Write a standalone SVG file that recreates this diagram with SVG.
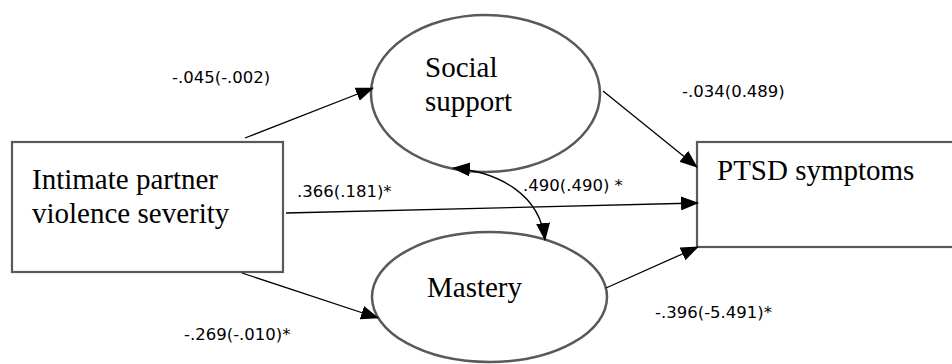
<svg xmlns="http://www.w3.org/2000/svg" width="952" height="364" viewBox="0 0 952 364">
<style>
.box{fill:#fff;stroke:#595959;stroke-width:2.2}
.ell{fill:#fff;stroke:#595959;stroke-width:2.5}
.nt{font-family:"Liberation Serif","Times New Roman",serif;font-size:29px;fill:#000}
.lb{font-family:"DejaVu Sans",sans-serif;font-size:16.5px;fill:#000}
.cn{fill:none;stroke:#000;stroke-width:1.3}
</style>
<defs>
<marker id="ah" markerUnits="userSpaceOnUse" markerWidth="18" markerHeight="14" viewBox="0 0 18 14" refX="17" refY="7" orient="auto-start-reverse">
<path d="M0,0 L18,7 L0,14 Z" fill="#000"/>
</marker>
</defs>
<rect width="952" height="364" fill="#fff"/>
<g id="ipv">
<rect class="box" x="12" y="142" width="271" height="130"/>
<text class="nt" x="32" y="189">Intimate partner</text>
<text class="nt" x="32" y="223">violence severity</text>
</g>
<g id="ptsd">
<rect class="box" x="697" y="142" width="262" height="105"/>
<text class="nt" x="717" y="180">PTSD symptoms</text>
</g>
<g id="social">
<ellipse class="ell" cx="485.5" cy="93.5" rx="114.5" ry="78.5"/>
<text class="nt" x="425" y="77">Social</text>
<text class="nt" x="425" y="111">support</text>
</g>
<g id="mastery">
<ellipse class="ell" cx="489.5" cy="297" rx="117.5" ry="65"/>
<text class="nt" x="427" y="297">Mastery</text>
</g>
<g id="connectors">
<line class="cn" x1="245" y1="138" x2="373" y2="88" marker-end="url(#ah)"/>
<line class="cn" x1="603" y1="91" x2="697" y2="167" marker-end="url(#ah)"/>
<line class="cn" x1="286" y1="213" x2="698" y2="203" marker-end="url(#ah)"/>
<line class="cn" x1="242" y1="273" x2="378" y2="318" marker-end="url(#ah)"/>
<line class="cn" x1="606" y1="288" x2="698" y2="247" marker-end="url(#ah)"/>
<path class="cn" d="M453,168 C500,172 540,195 545,240" marker-start="url(#ah)" marker-end="url(#ah)"/>
</g>
<g id="labels">
<text class="lb" x="172" y="83">-.045(-.002)</text>
<text class="lb" x="682" y="97">-.034(0.489)</text>
<text class="lb" x="297" y="197">.366(.181)*</text>
<text class="lb" x="523" y="191">.490(.490) *</text>
<text class="lb" x="184" y="340">-.269(-.010)*</text>
<text class="lb" x="655" y="318">-.396(-5.491)*</text>
</g>
</svg>
